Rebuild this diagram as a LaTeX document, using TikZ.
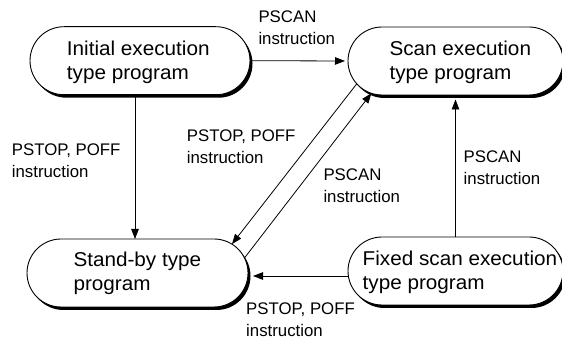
\documentclass[tikz,border=0pt]{standalone}
\usepackage{fontspec}
\setmainfont{Liberation Sans}
\newfontfamily\nodefont{Liberation Sans}[FakeStretch=1.035]
\usetikzlibrary{shapes.misc,arrows.meta}
\begin{document}
\begin{tikzpicture}[x=1pt,y=-1pt,
  prog/.style={rounded rectangle, draw=black, line width=0.9pt, fill=white,
    inner sep=0pt, outer sep=0pt, minimum height=68pt,
    preaction={fill=black, transform canvas={shift={(2.5pt,-3pt)}}}},
  progtext/.style={anchor=base west, inner sep=0pt, align=left,
    font=\nodefont\fontsize{20}{24.5}\selectfont},
  lbl/.style={anchor=base west, inner sep=0pt, align=left,
    font=\fontsize{16.8}{22}\selectfont},
  arr/.style={line width=0.8pt, -{Triangle[length=10pt,width=7.5pt]}}]
\useasboundingbox (0,0) rectangle (562,344);
% program nodes
\node[prog, minimum width=220pt] (init) at (140,60.7) {};
\node[prog, minimum width=215pt] (scan) at (455.5,61) {};
\node[prog, minimum width=221pt] (standby) at (137.5,273) {};
\node[prog, minimum width=215pt] (fixed) at (455.5,271) {};
% node texts (anchor on the baseline of the last line)
\node[progtext] (initt) at (66.7,80) {Initial execution\\type program};
\node[progtext] (scant) at (389.3,80) {Scan execution\\type program};
\node[progtext] (standbyt) at (73.3,291) {Stand-by type\\program};
\node[progtext] (fixedt) at (362.5,290) {Fixed scan execution\\type program};
% connectors
\draw[arr, shorten >=3pt] (init.east) -- (scan.west);
\draw[arr] ([xshift=-5pt]init.south) -- ([xshift=-5pt]init.south |- standby.north);
\draw[arr, shorten >=4.5pt] (fixed.north) -- (fixed.north |- scan.south);
\draw[arr, shorten >=5pt] ([yshift=-5pt]fixed.west) -- ([yshift=-5pt]fixed.west -| standby.east);
\draw[arr] (scan.193.4) -- (standby.17.1);
\draw[arr] (standby.8.3) -- (scan.201.35);
% labels (anchor on the baseline of the last line)
\node[lbl] (l1) at (258.3,45) {PSCAN\\instruction};
\node[lbl] (l2) at (11.7,178) {PSTOP, POFF\\instruction};
\node[lbl] (l3) at (186.7,163.3) {PSTOP, POFF\\instruction};
\node[lbl] (l4) at (323.3,203) {PSCAN\\instruction};
\node[lbl] (l5) at (463.5,185) {PSCAN\\instruction};
\node[lbl] (l6) at (246,337) {PSTOP, POFF\\instruction};
\end{tikzpicture}
\end{document}
